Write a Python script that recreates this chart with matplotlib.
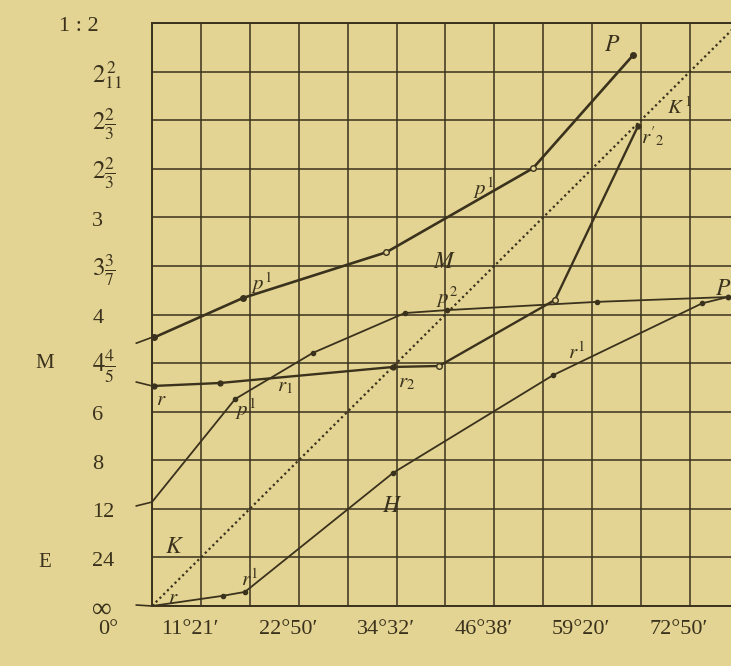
import matplotlib.pyplot as plt
from matplotlib.transforms import blended_transform_factory

plt.rcParams["font.family"] = ["Liberation Serif", "DejaVu Serif"]
plt.rcParams["mathtext.fontset"] = "stix"

paper = "#e4d493"
ink = "#3a321d"

# grid units: one cell per step on both axes
y_labels = ["∞", "24", "12", "8", "6", r"$4\frac{4}{5}$", "4", r"$3\frac{3}{7}$",
            "3", r"$2\frac{2}{3}$", r"$2\frac{2}{3}$", r"$2^{\,2}_{11}$", "1 : 2"]
x_labels = ["0°", "11°21′", "22°50′", "34°32′", "46°38′", "59°20′", "72°50′"]
x_label_cols = [-1, 1, 3, 5, 7, 9, 11]

# upper curve P
p_top_x = [0.05, 1.86, 4.79, 7.79, 9.84]
p_top_y = [5.53, 6.34, 7.28, 9.01, 11.34]
p_top_open = [False, False, True, True, False]

# lower p curve
p_low_x = [0.0, 1.70, 3.29, 5.17, 6.03, 9.10, 11.78]
p_low_y = [2.14, 4.26, 5.21, 6.03, 6.09, 6.26, 6.36]

# r curve
r_x = [0.05, 1.39, 4.93, 5.87, 8.24, 9.94]
r_y = [4.53, 4.59, 4.92, 4.94, 6.30, 9.88]
r_open = [False, False, False, True, True, False]

# r1 curve
r1_x = [0.0, 1.45, 1.90, 4.93, 8.20, 11.25, 11.78]
r1_y = [0.0, 0.21, 0.29, 2.74, 4.75, 6.23, 6.36]

# dotted K line
k_x = [0.0, 11.9]
k_y = [0.0, 11.9]

fig = plt.figure(figsize=(7.31, 6.66), dpi=100, facecolor=paper)
ax = fig.add_axes([152 / 731, 60 / 666, 579 / 731, 583 / 666])
ax.set_facecolor(paper)
ax.set_xlim(0, 579 / 48.9)
ax.set_ylim(0, 12)

for i in range(12):
    ax.axvline(i, color=ink, lw=1.1, zorder=1)
for j in range(13):
    ax.axhline(j, color=ink, lw=1.1, zorder=1)

ax.spines["right"].set_visible(False)
for s in ["left", "top", "bottom"]:
    ax.spines[s].set_color(ink)
    ax.spines[s].set_linewidth(1.4)
ax.set_xticks([])
ax.set_yticks([])

ax.plot(k_x, k_y, color=ink, lw=1.6, ls=(0, (1, 1.4)), zorder=2)

ax.plot(p_top_x, p_top_y, color=ink, lw=1.9, zorder=3)
for x, y, o in zip(p_top_x, p_top_y, p_top_open):
    ax.plot(x, y, "o", ms=4, mfc=paper if o else ink, mec=ink, mew=1, zorder=4)

ax.plot(p_low_x, p_low_y, color=ink, lw=1.3, zorder=3)
ax.plot(p_low_x[1:], p_low_y[1:], "o", ms=3, color=ink, zorder=4)

ax.plot(r_x, r_y, color=ink, lw=1.7, zorder=3)
for x, y, o in zip(r_x, r_y, r_open):
    ax.plot(x, y, "o", ms=4 if o else 3.5, mfc=paper if o else ink, mec=ink, mew=1, zorder=4)

ax.plot(r1_x, r1_y, color=ink, lw=1.3, zorder=3)
ax.plot(r1_x, r1_y, "o", ms=3, color=ink, zorder=4)

# small dashes left of the frame
for y0, y1 in [(5.41, p_top_y[0]), (2.06, p_low_y[0]), (4.61, r_y[0]), (0.02, r1_y[0])]:
    ax.plot([-0.32, 0.0], [y0, y1], color=ink, lw=1.2, clip_on=False)

labels = [
    (9.41, 11.54, r"$P$"), (2.25, 6.65, r"$p^{1}$"), (6.79, 8.60, r"$p^{1}$"),
    (5.99, 7.08, r"$M$"), (6.03, 6.36, r"$p^{2}$"), (10.80, 10.25, r"$K^{\,1}$"),
    (10.25, 9.65, r"$r'_{2}$"), (11.68, 6.52, r"$P$"), (8.69, 5.21, r"$r^{1}$"),
    (5.21, 4.59, r"$r_{2}$"), (2.72, 4.51, r"$r_{1}$"), (1.92, 4.05, r"$p^{1}$"),
    (0.20, 4.24, r"$r$"), (0.47, 1.21, r"$K$"), (0.43, 0.16, r"$r$"),
    (2.0, 0.53, r"$r^{1}$"), (4.91, 2.04, r"$H$"),
]
for x, y, t in labels:
    size = 17 if t in (r"$P$", r"$K$", r"$H$", r"$M$") else 15
    ax.text(x, y, t, color=ink, fontsize=size, ha="center", va="center", zorder=5)

ytr = blended_transform_factory(ax.transAxes, ax.transData)
for j, lab in enumerate(y_labels):
    xpos = -0.16 if lab == "1 : 2" else -0.103
    size = 18 if "frac" in lab or "_" in lab else 16
    if lab == "∞":
        size = 20
    ax.text(xpos, j - 0.08, lab, color=ink, fontsize=size, ha="left", va="center",
            transform=ytr, clip_on=False)
ax.text(-0.185, 5.0, "M", color=ink, fontsize=15, ha="center", va="center", transform=ytr)
ax.text(-0.185, 0.9, "E", color=ink, fontsize=15, ha="center", va="center", transform=ytr)

xtr = blended_transform_factory(ax.transData, ax.transAxes)
for c, lab in zip(x_label_cols, x_labels):
    xpos = c + 0.1 if c < 0 else c - 0.22
    ax.text(xpos, -0.041, lab, color=ink, fontsize=16, ha="center", va="center",
            transform=xtr, clip_on=False)

fig.savefig("out.png", dpi=100, facecolor=paper)
